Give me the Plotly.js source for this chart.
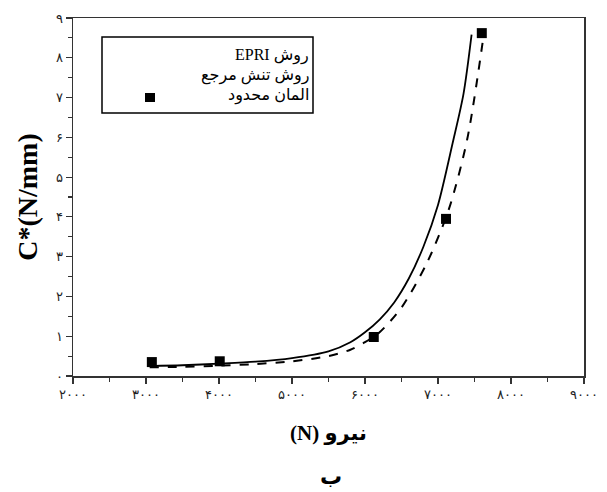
<!DOCTYPE html>
<html><head><meta charset="utf-8">
<script src="https://cdn.plot.ly/plotly-3.0.1.min.js"></script>
<style>html,body{margin:0;padding:0;background:#fff}#chart{width:607px;height:492px}</style>
</head><body><div id="chart"></div>
<script>
// Data
const epriX = [3050, 3500, 4000, 4500, 5000, 5500, 5800, 6000, 6200, 6400, 6600, 6800, 7000, 7200, 7350, 7460];
const epriY = [0.25, 0.27, 0.31, 0.36, 0.45, 0.62, 0.85, 1.1, 1.42, 1.85, 2.45, 3.25, 4.3, 5.85, 7.1, 8.58];
const refX = [3050, 3500, 4000, 4500, 5000, 5500, 5800, 6000, 6200, 6500, 6850, 7150, 7400, 7620];
const refY = [0.22, 0.23, 0.26, 0.3, 0.37, 0.5, 0.66, 0.85, 1.1, 1.72, 2.85, 4.2, 5.95, 8.5];
const femX = [3080, 4010, 6120, 7110, 7600];
const femY = [0.35, 0.37, 0.98, 3.95, 8.62];
const xTickVals = [2000, 3000, 4000, 5000, 6000, 7000, 8000, 9000];
const xTickText = ['۲۰۰۰', '۳۰۰۰', '۴۰۰۰', '۵۰۰۰', '۶۰۰۰', '۷۰۰۰', '۸۰۰۰', '۹۰۰۰'];
const yTickVals = [0, 1, 2, 3, 4, 5, 6, 7, 8, 9];
const yTickText = ['۰', '۱', '۲', '۳', '۴', '۵', '۶', '۷', '۸', '۹'];
const legendLabels = ['روش EPRI', 'روش تنش مرجع', 'المان محدود'];
const xTitle = 'نیرو (N)';
const yTitle = 'C*(N/mm)';
const caption = 'ب';

const rtl = s => '\u202B' + s + '\u202C';
const serif = 'Times New Roman, Liberation Serif, DejaVu Serif, DejaVu Sans, serif';
const traces = [
  {x: epriX, y: epriY, mode: 'lines', line: {color: '#000', width: 1.8, shape: 'spline', smoothing: 0.8}, showlegend: false},
  {x: refX, y: refY, mode: 'lines', line: {color: '#000', width: 2, dash: 'dash', shape: 'spline', smoothing: 0.8}, showlegend: false},
  {x: femX, y: femY, mode: 'markers', marker: {symbol: 'square', size: 10, color: '#000'}, showlegend: false}
];
const axisCommon = {
  showline: true, linecolor: '#333', linewidth: 1.5, mirror: true, showgrid: false, zeroline: false,
  ticks: 'outside', ticklen: 6, tickcolor: '#333', tickwidth: 1.2,
  tickfont: {family: 'DejaVu Sans, sans-serif', size: 13, color: '#222'}, tickmode: 'array'
};
const layout = {
  width: 607, height: 492,
  margin: {l: 73, r: 23, t: 18, b: 116},
  paper_bgcolor: '#fff', plot_bgcolor: '#fff',
  xaxis: Object.assign({}, axisCommon, {
    range: [2000, 9000], tickvals: xTickVals, ticktext: xTickText,
    minor: {dtick: 500, tick0: 0, ticks: 'outside', ticklen: 4, tickcolor: '#333'},
    title: {text: '<b>' + rtl(xTitle) + '</b>', font: {family: serif, size: 21, color: '#000'}, standoff: 24}
  }),
  yaxis: Object.assign({}, axisCommon, {
    range: [0, 9], tickvals: yTickVals, ticktext: yTickText,
    minor: {dtick: 0.5, tick0: 0, ticks: 'outside', ticklen: 4, tickcolor: '#333'},
    title: {text: '<b>' + yTitle + '</b>', font: {family: serif, size: 28, color: '#000'}, standoff: 10}
  }),
  shapes: [
    {type: 'rect', xref: 'paper', yref: 'paper', x0: (102-73)/511, x1: (313-73)/511, y0: (376-113)/358, y1: (376-37)/358, line: {color: '#000', width: 1.5}},
    {type: 'rect', xref: 'paper', yref: 'paper', x0: (145-73)/511, x1: (155-73)/511, y0: (376-102)/358, y1: (376-93)/358, fillcolor: '#000', line: {width: 0}}
  ],
  annotations: [
    {xref: 'paper', yref: 'paper', x: (311-73)/511, y: (376-55)/358, xanchor: 'right', yanchor: 'middle', showarrow: false, text: rtl(legendLabels[0]), font: {family: serif, size: 16, color: '#000'}},
    {xref: 'paper', yref: 'paper', x: (311-73)/511, y: (376-75)/358, xanchor: 'right', yanchor: 'middle', showarrow: false, text: rtl(legendLabels[1]), font: {family: serif, size: 16, color: '#000'}},
    {xref: 'paper', yref: 'paper', x: (311-73)/511, y: (376-95)/358, xanchor: 'right', yanchor: 'middle', showarrow: false, text: rtl(legendLabels[2]), font: {family: serif, size: 16, color: '#000'}},
    {xref: 'paper', yref: 'paper', x: (331-73)/511, y: (376-476)/358, xanchor: 'center', yanchor: 'middle', showarrow: false, text: '<b>' + caption + '</b>', font: {family: serif, size: 22, color: '#000'}}
  ]
};
Plotly.newPlot('chart', traces, layout, {staticPlot: true, displayModeBar: false});
</script>
</body></html>
